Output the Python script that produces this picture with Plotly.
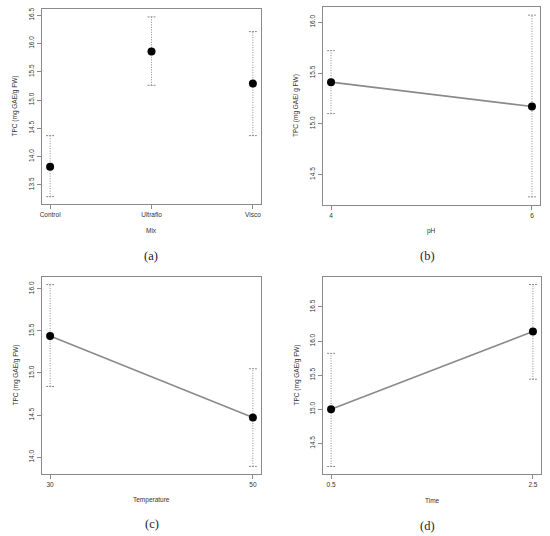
import plotly.graph_objects as go

# ── Data ──────────────────────────────────────────────────────────────────────
mix_labels = ["Control", "Ultraflo", "Visco"]
mix_x      = [1, 2, 3]
mix_mean   = [13.82, 15.86, 15.29]
mix_low    = [13.29, 15.26, 14.37]
mix_high   = [14.37, 16.47, 16.21]

ph_x    = [4, 6]
ph_mean = [15.41, 15.17]
ph_low  = [15.10, 14.28]
ph_high = [15.72, 16.07]

temp_x    = [30, 50]
temp_mean = [15.44, 14.47]
temp_low  = [14.84, 13.89]
temp_high = [16.05, 15.05]

time_x    = [0.5, 2.5]
time_mean = [15.00, 16.14]
time_low  = [14.16, 15.44]
time_high = [15.82, 16.83]

W, H = 550, 536
GRAY = "#8a8a8a"
TXT = "#333333"
FONT = "Liberation Sans"

# panel frames in pixels: left, right, top, bottom; caption centre (x, y)
panels = [
    dict(key="", x=mix_x, m=mix_mean, lo=mix_low, hi=mix_high, line=False,
         frame=(42, 261, 9, 204), cap_xy=(151, 256), xr=[0.92, 3.08], yr=[13.16, 16.61],
         yt=[13.5, 14.0, 14.5, 15.0, 15.5, 16.0, 16.5], xt=mix_x, xtt=mix_labels,
         xtitle="Mix", ytitle="TPC (mg GAE/g FW)", cap="(a)"),
    dict(key="2", x=ph_x, m=ph_mean, lo=ph_low, hi=ph_high, line=True,
         frame=(323, 540, 7, 205), cap_xy=(427, 256), xr=[3.92, 6.08], yr=[14.20, 16.15],
         yt=[14.5, 15.0, 15.5, 16.0], xt=ph_x, xtt=["4", "6"],
         xtitle="pH", ytitle="TPC (mg GAE/ g FW)", cap="(b)"),
    dict(key="3", x=temp_x, m=temp_mean, lo=temp_low, hi=temp_high, line=True,
         frame=(42, 261, 277, 474), cap_xy=(152, 524), xr=[29.2, 50.8], yr=[13.80, 16.14],
         yt=[14.0, 14.5, 15.0, 15.5, 16.0], xt=temp_x, xtt=["30", "50"],
         xtitle="Temperature", ytitle="TPC (mg GAE/g FW)", cap="(c)"),
    dict(key="4", x=time_x, m=time_mean, lo=time_low, hi=time_high, line=True,
         frame=(323, 541, 277, 474), cap_xy=(427, 526), xr=[0.42, 2.58], yr=[14.05, 16.94],
         yt=[14.5, 15.0, 15.5, 16.0, 16.5], xt=time_x, xtt=["0.5", "2.5"],
         xtitle="Time", ytitle="TPC (mg GAE/g FW)", cap="(d)"),
]

fig = go.Figure()
layout = dict(width=W, height=H, margin=dict(l=0, r=0, t=0, b=0, autoexpand=False),
              paper_bgcolor="white", plot_bgcolor="white", showlegend=False)
annots = []


def note(px, py, text, size, family=FONT, color=TXT, angle=0):
    annots.append(dict(x=px / W, y=1 - py / H, xref="paper", yref="paper",
                       xanchor="center", yanchor="middle", text=text,
                       showarrow=False, textangle=angle,
                       font=dict(family=family, size=size, color=color)))


for p in panels:
    k = p["key"]
    xa, ya = "x" + k, "y" + k
    l, r, t, b = p["frame"]
    span = p["xr"][1] - p["xr"][0]
    cw = span * 0.018  # cap half width

    # error bars: dotted stems, dashed caps
    for xi, lo, hi in zip(p["x"], p["lo"], p["hi"]):
        fig.add_trace(go.Scatter(x=[xi, xi], y=[lo, hi], mode="lines",
                                 line=dict(color=GRAY, width=1, dash="1px,1.5px"),
                                 xaxis=xa, yaxis=ya, hoverinfo="skip"))
        for yv in (lo, hi):
            fig.add_trace(go.Scatter(x=[xi - cw, xi + cw], y=[yv, yv], mode="lines",
                                     line=dict(color=GRAY, width=1, dash="2px,1px"),
                                     xaxis=xa, yaxis=ya, hoverinfo="skip"))
    fig.add_trace(go.Scatter(
        x=p["x"], y=p["m"], mode="lines+markers" if p["line"] else "markers",
        line=dict(color=GRAY, width=1.6),
        marker=dict(color="black", size=8),
        xaxis=xa, yaxis=ya))

    axstyle = dict(showline=True, mirror=True, linecolor=GRAY, linewidth=1,
                   ticks="outside", ticklen=4, tickcolor=GRAY, showgrid=False,
                   zeroline=False, automargin=False,
                   tickfont=dict(family=FONT, size=6.5, color=TXT))
    layout["xaxis" + k] = dict(domain=[l / W, r / W], range=p["xr"], anchor=ya,
                               tickmode="array", tickvals=p["xt"], ticktext=p["xtt"],
                               **axstyle)
    layout["yaxis" + k] = dict(domain=[1 - b / H, 1 - t / H], range=p["yr"], anchor=xa,
                               tickmode="array", tickvals=p["yt"],
                               ticktext=[f"{v:.1f}" for v in p["yt"]], tickangle=-90,
                               **axstyle)

    note((l + r) / 2, b + 26, p["xtitle"], 6.5)
    note(l - 27, (t + b) / 2, p["ytitle"], 6.5, angle=-90)
    note(p["cap_xy"][0], p["cap_xy"][1], p["cap"], 12.5,
         family="Liberation Serif", color="#222222")

layout["annotations"] = annots
fig.update_layout(**layout)

# the page body carries a default 8px margin; remove it so the figure fills the window
fig.write_html("out.html", config={"displayModeBar": False},
               post_script="document.body.style.margin='0';")
